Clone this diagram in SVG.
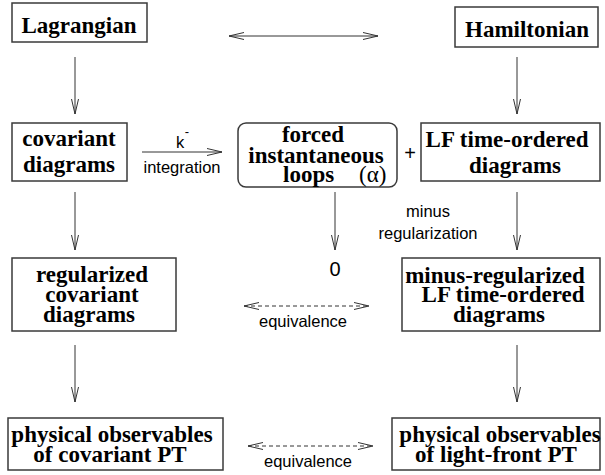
<svg xmlns="http://www.w3.org/2000/svg" width="605" height="475" viewBox="0 0 605 475">
<defs>
<style>
.box{fill:#fff;stroke:#3a3a3a;stroke-width:1.5}
.t{font-family:"Liberation Serif","Times New Roman",serif;font-weight:bold;font-size:23px;fill:#000;text-anchor:middle}
.s{font-family:"Liberation Sans",Arial,sans-serif;font-size:16.5px;fill:#000;text-anchor:middle}
.c{fill:none;stroke:#333;stroke-width:1}
.d{fill:none;stroke:#333;stroke-width:1;stroke-dasharray:4 3}
</style>
<marker id="ah" viewBox="0 0 16 8" refX="15" refY="4" markerWidth="16" markerHeight="8" markerUnits="userSpaceOnUse" orient="auto-start-reverse">
<path d="M0,0.5 L15,4 L0,7.5" fill="none" stroke="#333" stroke-width="1"/>
</marker>
</defs>
<rect width="605" height="475" fill="#fff"/>
<g id="connectors">
<line class="c" x1="229" y1="36" x2="378" y2="36" marker-start="url(#ah)" marker-end="url(#ah)"/>
<line class="c" x1="75" y1="57" x2="75" y2="114" marker-end="url(#ah)"/>
<line class="c" x1="517" y1="57" x2="517" y2="114" marker-end="url(#ah)"/>
<line class="c" x1="142" y1="152" x2="222" y2="152" marker-end="url(#ah)"/>
<line class="c" x1="75" y1="192" x2="75" y2="250" marker-end="url(#ah)"/>
<line class="c" x1="335" y1="192" x2="335" y2="250" marker-end="url(#ah)"/>
<line class="c" x1="517" y1="192" x2="517" y2="250" marker-end="url(#ah)"/>
<line class="d" x1="244" y1="306" x2="369" y2="306" marker-start="url(#ah)" marker-end="url(#ah)"/>
<line class="c" x1="75" y1="345" x2="75" y2="402" marker-end="url(#ah)"/>
<line class="c" x1="517" y1="345" x2="517" y2="402" marker-end="url(#ah)"/>
<line class="d" x1="248" y1="446" x2="373" y2="446" marker-start="url(#ah)" marker-end="url(#ah)"/>
<text class="s" x="180" y="148">k</text>
<text class="s" x="187" y="136" style="font-size:13px">-</text>
<text class="s" x="182" y="173">integration</text>
<text class="s" x="410" y="160" style="font-size:20px">+</text>
<text class="s" x="335" y="276" style="font-size:20px">0</text>
<text class="s" x="428" y="217">minus</text>
<text class="s" x="428" y="239">regularization</text>
<text class="s" x="303" y="327">equivalence</text>
<text class="s" x="308" y="467">equivalence</text>
</g>
<g id="lagrangian">
<rect class="box" x="12" y="3" width="135" height="39"/>
<text class="t" x="79" y="33">Lagrangian</text>
</g>
<g id="hamiltonian">
<rect class="box" x="455" y="7" width="143" height="40"/>
<text class="t" x="527" y="37">Hamiltonian</text>
</g>
<g id="covariant">
<rect class="box" x="12" y="123" width="115" height="58"/>
<text class="t" x="69" y="146">covariant</text>
<text class="t" x="69" y="172">diagrams</text>
</g>
<g id="forced">
<rect class="box" x="238" y="123" width="159" height="64" rx="8" ry="8"/>
<text class="t" x="313" y="142">forced</text>
<text class="t" x="316" y="163">instantaneous</text>
<text class="t" x="283" y="182" style="text-anchor:start">loops<tspan x="359" style="font-weight:normal">(α)</tspan></text>
</g>
<g id="lf">
<rect class="box" x="421" y="123" width="179" height="58"/>
<text class="t" x="507" y="147">LF time-ordered</text>
<text class="t" x="515" y="173">diagrams</text>
</g>
<g id="regularized">
<rect class="box" x="12" y="258" width="164" height="73"/>
<text class="t" x="92" y="282">regularized</text>
<text class="t" x="92" y="302">covariant</text>
<text class="t" x="89" y="322">diagrams</text>
</g>
<g id="minusreg">
<rect class="box" x="402" y="258" width="198" height="73"/>
<text class="t" x="495" y="283">minus-regularized</text>
<text class="t" x="503" y="302">LF time-ordered</text>
<text class="t" x="499" y="322">diagrams</text>
</g>
<g id="physcov">
<rect class="box" x="8" y="418" width="215" height="52"/>
<text class="t" x="112" y="442">physical observables</text>
<text class="t" x="110" y="462">of covariant PT</text>
</g>
<g id="physlf">
<rect class="box" x="392" y="418" width="208" height="52"/>
<text class="t" x="500" y="442">physical observables</text>
<text class="t" x="496" y="462">of light-front PT</text>
</g>
</svg>
